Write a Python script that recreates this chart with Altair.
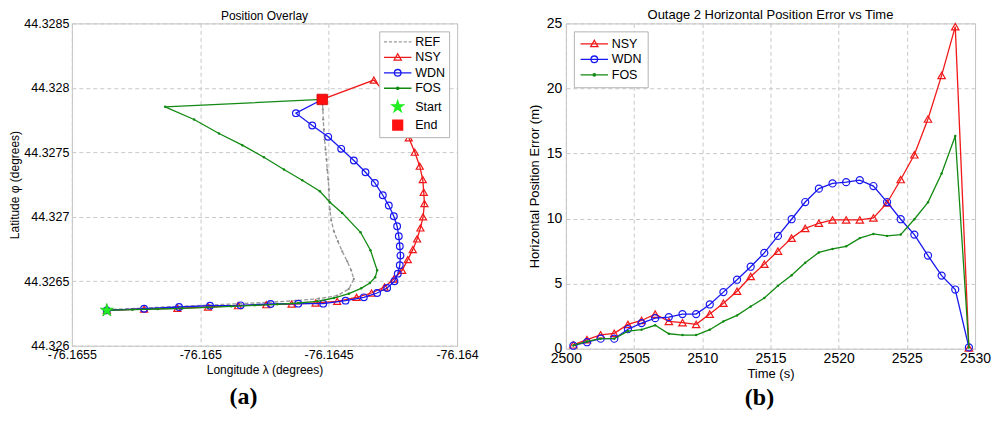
import altair as alt
import pandas as pd

FONT = "Liberation Sans"

# ---------------- Panel (a): position overlay ----------------
ref_lon = [-76.1653639, -76.1652187, -76.1650865, -76.1649659, -76.1648479, -76.1647326,
           -76.1646289, -76.1645381, -76.1644668, -76.1644214, -76.1644020, -76.1644124,
           -76.1644279, -76.1644474, -76.1644642, -76.1644798, -76.1644902, -76.1644953,
           -76.1644979, -76.1644992, -76.1645018, -76.1645057, -76.1645083, -76.1645122,
           -76.1645161, -76.1645187, -76.1645213, -76.1645226, -76.1645239, -76.1645252]
ref_lat = [44.3262795, 44.3262924, 44.3263054, 44.3263157, 44.3263261, 44.3263364,
           44.3263494, 44.3263649, 44.3263882, 44.3264400, 44.3265176, 44.3265849,
           44.3266548, 44.3267324, 44.3268100, 44.3268877, 44.3269731, 44.3270559,
           44.3271335, 44.3272112, 44.3272888, 44.3273665, 44.3274441, 44.3275217,
           44.3275994, 44.3276770, 44.3277547, 44.3278323, 44.3278789, 44.3279099]

nsy_lon = [-76.1653639, -76.1652187, -76.1650891, -76.1649698, -76.1648531, -76.1647429,
           -76.1646444, -76.1645511, -76.1644668, -76.1643916, -76.1643333, -76.1642827,
           -76.1642464, -76.1642140, -76.1641920, -76.1641725, -76.1641557, -76.1641427,
           -76.1641324, -76.1641272, -76.1641298, -76.1641337, -76.1641453, -76.1641648,
           -76.1641881, -76.1642140, -76.1642529, -76.1642853, -76.1643242, -76.1645252]
nsy_lat = [44.3262743, 44.3262847, 44.3262899, 44.3263002, 44.3263106, 44.3263183,
           44.3263235, 44.3263313, 44.3263442, 44.3263753, 44.3264089, 44.3264555,
           44.3265176, 44.3265849, 44.3266677, 44.3267453, 44.3268282, 44.3269136,
           44.3269990, 44.3271025, 44.3271905, 44.3272888, 44.3273923, 44.3275010,
           44.3276123, 44.3277288, 44.3278841, 44.3279746, 44.3280600, 44.3279099]

wdn_lon = [-76.1653639, -76.1652187, -76.1650826, -76.1649620, -76.1648428, -76.1647261,
           -76.1646185, -76.1645213, -76.1644344, -76.1643631, -76.1643113, -76.1642724,
           -76.1642439, -76.1642309, -76.1642231, -76.1642205, -76.1642231, -76.1642270,
           -76.1642335, -76.1642464, -76.1642659, -76.1642892, -76.1643203, -76.1643566,
           -76.1644020, -76.1644513, -76.1645018, -76.1645640, -76.1646276, -76.1645252]
wdn_lat = [44.3262743, 44.3262873, 44.3263002, 44.3263106, 44.3263132, 44.3263235,
           44.3263261, 44.3263261, 44.3263494, 44.3263753, 44.3264089, 44.3264477,
           44.3264995, 44.3265590, 44.3266237, 44.3266988, 44.3267712, 44.3268489,
           44.3269265, 44.3270041, 44.3270870, 44.3271672, 44.3272629, 44.3273458,
           44.3274363, 44.3275269, 44.3276201, 44.3277081, 44.3278038, 44.3279099]

fos_lon = [-76.1653639, -76.1652641, -76.1651668, -76.1650696, -76.1649724, -76.1648791,
           -76.1647883, -76.1647002, -76.1646185, -76.1645446, -76.1644798, -76.1644214,
           -76.1643735, -76.1643398, -76.1643190, -76.1643113, -76.1643372, -76.1643761,
           -76.1644474, -76.1644953, -76.1645342, -76.1646029, -76.1646742, -76.1647520,
           -76.1648363, -76.1649270, -76.1650242, -76.1651370, -76.1645252]
fos_lat = [44.3262743, 44.3262795, 44.3262847, 44.3262899, 44.3262976, 44.3263054,
           44.3263132, 44.3263209, 44.3263313, 44.3263442, 44.3263701, 44.3264037,
           44.3264451, 44.3264865, 44.3265305, 44.3265849, 44.3267402, 44.3268799,
           44.3270300, 44.3271128, 44.3271982, 44.3272836, 44.3273665, 44.3274622,
           44.3275554, 44.3276460, 44.3277547, 44.3278530, 44.3279099]

start_lon = [-76.1653639]
start_lat = [44.3262743]
end_lon = [-76.1645252]
end_lat = [44.3279099]

lon_ticks = [-76.1655, -76.165, -76.1645, -76.164]
lat_ticks = [44.326, 44.3265, 44.327, 44.3275, 44.328, 44.3285]

# ---------------- Panel (b): horizontal error vs time ----------------
time_s = [2500.55, 2501.55, 2502.55, 2503.55, 2504.55, 2505.55, 2506.55, 2507.55, 2508.55, 2509.55,
          2510.55, 2511.55, 2512.55, 2513.55, 2514.55, 2515.55, 2516.55, 2517.55, 2518.55, 2519.55,
          2520.55, 2521.55, 2522.55, 2523.55, 2524.55, 2525.55, 2526.55, 2527.55, 2528.55, 2529.55]
nsy_err = [0.3, 0.7, 1.07, 1.18, 1.87, 2.17, 2.66, 2.1, 2.0, 1.87, 2.66, 3.5, 4.42, 5.55, 6.5,
           7.5, 8.5, 9.25, 9.64, 9.9, 9.9, 9.9, 10.05, 11.2, 13.0, 14.9, 17.65, 21.0, 24.75, 0.05]
wdn_err = [0.23, 0.5, 0.77, 0.77, 1.5, 1.97, 2.35, 2.43, 2.66, 2.66, 3.4, 4.35, 5.3, 6.3, 7.36,
           8.67, 9.95, 11.27, 12.3, 12.7, 12.8, 12.96, 12.5, 11.27, 9.95, 8.77, 7.16, 5.62, 4.55, 0.1]
fos_err = [0.25, 0.56, 0.77, 0.77, 1.35, 1.46, 1.8, 1.15, 1.05, 1.05, 1.46, 2.1, 2.56, 3.25, 3.9,
           4.83, 5.65, 6.6, 7.4, 7.67, 7.87, 8.5, 8.82, 8.67, 8.77, 9.95, 11.25, 13.47, 16.35, 0.1]

time_ticks = [2500, 2505, 2510, 2515, 2520, 2525, 2530]
err_ticks = [0, 5, 10, 15, 20, 25]

legend_a = ["REF", "NSY", "WDN", "FOS", "Start", "End"]
legend_b = ["NSY", "WDN", "FOS"]

# ---------------- styles ----------------
RED = "#f01818"
BLUE = "#1818f0"
GREEN = "#128a12"
GRAY = "#9a9a9a"
LIME = "#22ee22"

STAR = ("M0,-1L0.2245,-0.309L0.951,-0.309L0.363,0.118L0.588,0.809L0,0.382"
        "L-0.588,0.809L-0.363,0.118L-0.951,-0.309L-0.2245,-0.309Z")
STAR_L = ("M0,-1.1L0.247,-0.34L1.046,-0.34L0.399,0.13L0.647,0.89L0,0.42"
          "L-0.647,0.89L-0.399,0.13L-1.046,-0.34L-0.247,-0.34Z")
LINE = "M-2.5,0H2.5"
DASH = "M-2.5,0H-1.95M-1.6,0H-1.05M-0.7,0H-0.15M0.2,0H0.75M1.1,0H1.65M2.0,0H2.5"
TRI = "M0,-0.65L0.65,0.5L-0.65,0.5Z"
CIRC = "M0.6,0A0.6,0.6,0,1,1,-0.6,0A0.6,0.6,0,1,1,0.6,0Z"
DOT = "M0.22,0A0.22,0.22,0,1,1,-0.22,0A0.22,0.22,0,1,1,0.22,0Z"
SQ = "M-0.9,-0.9H0.9V0.9H-0.9Z"
sym_paths = {"REF": DASH, "NSY": LINE + TRI, "WDN": LINE + CIRC, "FOS": LINE + DOT,
             "Start": STAR_L, "End": SQ}
sym_stroke = {"REF": GRAY, "NSY": RED, "WDN": BLUE, "FOS": GREEN, "Start": LIME, "End": "#ff1010"}
sym_fill = {"REF": "transparent", "NSY": "transparent", "WDN": "transparent", "FOS": GREEN,
            "Start": LIME, "End": "#ff1010"}


def axis(title, values, fs_label, fs_title, lpad, tpad):
    return alt.Axis(values=values, labelExpr="toString(datum.value)", title=title, grid=True,
                    gridDash=[4, 3], gridColor="#c8c8c8", gridWidth=1, ticks=False,
                    domain=False, labelFlush=False, labelPadding=lpad, titlePadding=tpad,
                    labelFontSize=fs_label, titleFontSize=fs_title, titleFontWeight="normal",
                    labelColor="black", titleColor="black", labelFont=FONT, titleFont=FONT,
                    labelOverlap=False)


def legend_layer(field, labels, orient, pad, loff):
    df = pd.DataFrame({field: labels})
    lg = alt.Legend(title=None, orient=orient, offset=8, fillColor="white",
                    strokeColor="#b4b4b4", padding=pad, symbolSize=121, symbolStrokeWidth=1.3,
                    symbolOffset=8, labelOffset=loff, labelFontSize=12.5, labelFont=FONT,
                    labelColor="black", rowPadding=2.5, symbolOpacity=1, cornerRadius=0)
    return alt.Chart(df).mark_point(opacity=0, filled=True).encode(
        stroke=alt.Stroke(f"{field}:N", scale=alt.Scale(domain=labels, range=[sym_stroke[k] for k in labels]), legend=lg),
        fill=alt.Fill(f"{field}:N", scale=alt.Scale(domain=labels, range=[sym_fill[k] for k in labels]), legend=lg),
        shape=alt.Shape(f"{field}:N", scale=alt.Scale(domain=labels, range=[sym_paths[k] for k in labels]), legend=lg),
    )


# ---------------- left chart ----------------
xa = alt.X("lon:Q", scale=alt.Scale(domain=[-76.1655, -76.164], nice=False, zero=False),
           axis=axis("Longitude λ (degrees)", lon_ticks, 12.5, 12, 3, 3))
ya = alt.Y("lat:Q", scale=alt.Scale(domain=[44.326, 44.3285], nice=False, zero=False),
           axis=axis("Latitude φ (degrees)", lat_ticks, 12.5, 12, 3, 2))


def pos_df(lon, lat):
    return pd.DataFrame({"lon": lon, "lat": lat, "k": list(range(len(lon)))})


ref_df = pos_df(ref_lon, ref_lat)
nsy_df = pos_df(nsy_lon, nsy_lat)
wdn_df = pos_df(wdn_lon, wdn_lat)
fos_df = pos_df(fos_lon, fos_lat)

left_layers = [
    alt.Chart(ref_df).mark_line(color=GRAY, strokeDash=[4, 2], strokeWidth=1.3).encode(x=xa, y=ya, order="k:Q"),
    alt.Chart(ref_df).mark_point(filled=True, size=5, color="#8a8a8a", opacity=1).encode(x=xa, y=ya),
    alt.Chart(nsy_df).mark_line(color=RED, strokeWidth=1.3).encode(x=xa, y=ya, order="k:Q"),
    alt.Chart(nsy_df).mark_point(shape="triangle-up", filled=False, size=50, color=RED, strokeWidth=1.2, opacity=1).encode(x=xa, y=ya),
    alt.Chart(wdn_df).mark_line(color=BLUE, strokeWidth=1.3).encode(x=xa, y=ya, order="k:Q"),
    alt.Chart(wdn_df).mark_point(shape="circle", filled=False, size=45, color=BLUE, strokeWidth=1.2, opacity=1).encode(x=xa, y=ya),
    alt.Chart(fos_df).mark_line(color=GREEN, strokeWidth=1.3).encode(x=xa, y=ya, order="k:Q"),
    alt.Chart(fos_df).mark_point(filled=True, size=6, color=GREEN, opacity=1).encode(x=xa, y=ya),
    alt.Chart(pd.DataFrame({"lon": start_lon, "lat": start_lat})).mark_point(
        shape=STAR, filled=True, size=190, fill=LIME, stroke="#18c818", strokeWidth=0.8, opacity=1).encode(x=xa, y=ya),
    alt.Chart(pd.DataFrame({"lon": end_lon, "lat": end_lat})).mark_point(
        shape="square", filled=True, size=110, fill="#ff1010", stroke="#d00000", strokeWidth=0.8, opacity=1).encode(x=xa, y=ya),
    legend_layer("leg_a", legend_a, "top-right", 4, 11),
]

left = alt.layer(*left_layers).properties(
    width=386, height=323,
    title=alt.TitleParams("Position Overlay", fontSize=12, fontWeight="normal", font=FONT,
                          color="black", frame="group", anchor="middle", offset=-6),
)
left_block = alt.vconcat(left, title=alt.TitleParams(
    "(a)", orient="bottom", anchor="middle", font="Liberation Serif", fontSize=24,
    fontWeight="bold", color="black", offset=9)).resolve_scale(
    stroke="independent", fill="independent", shape="independent")

# ---------------- right chart ----------------
xb = alt.X("t:Q", scale=alt.Scale(domain=[2500, 2530], nice=False, zero=False),
           axis=axis("Time (s)", time_ticks, 14, 13, 3, 2))
yb = alt.Y("e:Q", scale=alt.Scale(domain=[0, 25], nice=False),
           axis=axis("Horizontal Position Error (m)", err_ticks, 14, 13, 4, 5))


def err_df(vals):
    return pd.DataFrame({"t": time_s, "e": vals})


right_layers = [
    alt.Chart(err_df(nsy_err)).mark_line(color=RED, strokeWidth=1.3).encode(x=xb, y=yb),
    alt.Chart(err_df(nsy_err)).mark_point(shape="triangle-up", filled=False, size=55, color=RED, strokeWidth=1.2, opacity=1).encode(x=xb, y=yb),
    alt.Chart(err_df(wdn_err)).mark_line(color=BLUE, strokeWidth=1.3).encode(x=xb, y=yb),
    alt.Chart(err_df(wdn_err)).mark_point(shape="circle", filled=False, size=50, color=BLUE, strokeWidth=1.2, opacity=1).encode(x=xb, y=yb),
    alt.Chart(err_df(fos_err)).mark_line(color=GREEN, strokeWidth=1.3).encode(x=xb, y=yb),
    alt.Chart(err_df(fos_err)).mark_point(filled=True, size=6, color=GREEN, opacity=1).encode(x=xb, y=yb),
    legend_layer("leg_b", legend_b, "top-left", 6, 11),
]

right = alt.layer(*right_layers).properties(
    width=410, height=326,
    title=alt.TitleParams("Outage 2 Horizontal Position Error vs Time", fontSize=13,
                          fontWeight="normal", font=FONT, color="black", frame="group",
                          anchor="middle", offset=-6),
)
right_block = alt.vconcat(right, title=alt.TitleParams(
    "(b)", orient="bottom", anchor="middle", font="Liberation Serif", fontSize=24,
    fontWeight="bold", color="black", offset=5)).resolve_scale(
    stroke="independent", fill="independent", shape="independent")

chart = alt.hconcat(left_block, right_block, spacing=48).resolve_scale(
    stroke="independent", fill="independent", shape="independent"
).configure_view(stroke="#c4c4c4", strokeWidth=1).properties(
    padding={"left": 0, "top": 0, "right": 0, "bottom": 0}
)

chart.save("out.html", embed_options={"renderer": "svg", "actions": False})
